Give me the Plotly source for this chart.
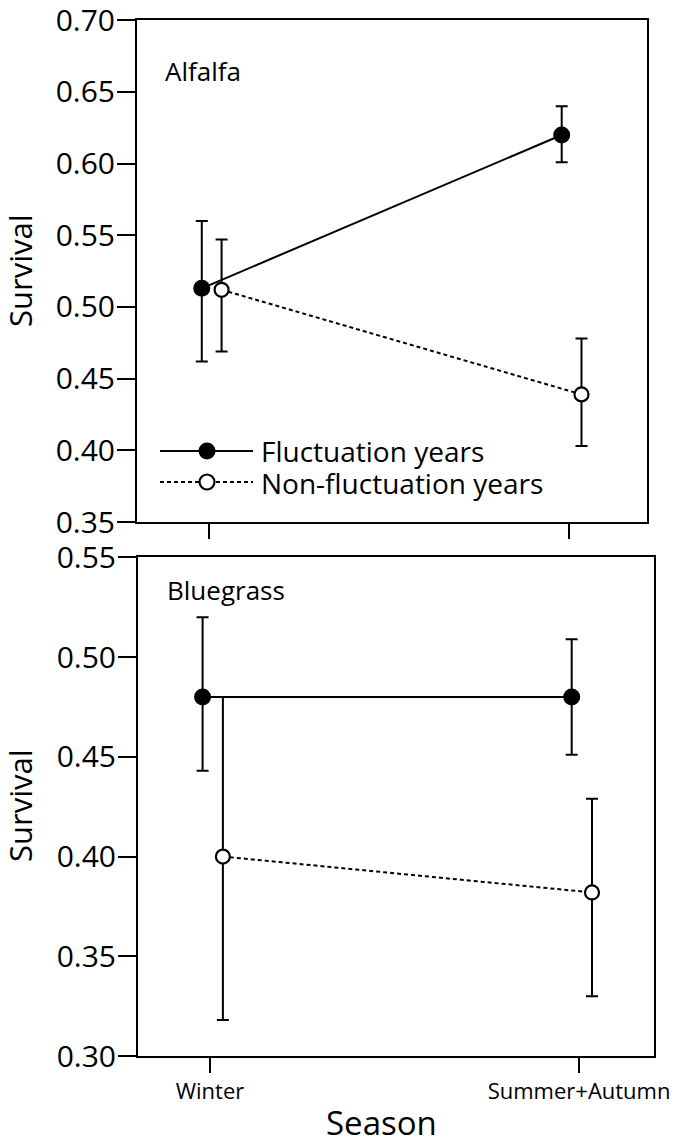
import plotly.graph_objects as go

# ---- data ----
seasons = ["Winter", "Summer+Autumn"]

alfalfa_fluct = [0.513, 0.620]
alfalfa_fluct_hi = [0.560, 0.640]
alfalfa_fluct_lo = [0.462, 0.601]

alfalfa_non = [0.512, 0.439]
alfalfa_non_hi = [0.547, 0.478]
alfalfa_non_lo = [0.469, 0.403]

blue_fluct = [0.480, 0.480]
blue_fluct_hi = [0.520, 0.509]
blue_fluct_lo = [0.443, 0.451]

blue_non = [0.400, 0.382]
blue_non_hi = [0.480, 0.429]
blue_non_lo = [0.318, 0.330]

alfalfa_yticks = [0.35, 0.40, 0.45, 0.50, 0.55, 0.60, 0.65, 0.70]
blue_yticks = [0.30, 0.35, 0.40, 0.45, 0.50, 0.55]

legend_names = ["Fluctuation years", "Non-fluctuation years"]

# ---- styling ----
W, H = 679, 1147
FONT = "Open Sans"
OFF_FLUCT = -0.02
OFF_NON = 0.035
DASH = "4px,3px"

fig = go.Figure()


def add_series(vals, hi, lo, offset, filled, name, xa, ya):
    xs = [i + offset for i in range(len(seasons))]
    plus = [h - v for h, v in zip(hi, vals)]
    minus = [v - l for v, l in zip(vals, lo)]
    fig.add_trace(go.Scatter(
        x=xs, y=vals, name=name, showlegend=False,
        xaxis=xa, yaxis=ya,
        mode="lines+markers",
        line=dict(color="black", width=2, dash="solid" if filled else DASH),
        marker=dict(
            symbol="circle",
            size=17 if filled else 14,
            color="black" if filled else "white",
            line=dict(color="black", width=0 if filled else 2.2),
        ),
        error_y=dict(type="data", symmetric=False, array=plus,
                     arrayminus=minus, color="black", thickness=2, width=6),
    ))


add_series(alfalfa_fluct, alfalfa_fluct_hi, alfalfa_fluct_lo, OFF_FLUCT, True,
           legend_names[0], "x", "y")
add_series(alfalfa_non, alfalfa_non_hi, alfalfa_non_lo, OFF_NON, False,
           legend_names[1], "x", "y")
add_series(blue_fluct, blue_fluct_hi, blue_fluct_lo, OFF_FLUCT, True,
           legend_names[0], "x2", "y2")
add_series(blue_non, blue_non_hi, blue_non_lo, OFF_NON, False,
           legend_names[1], "x2", "y2")

axis_common = dict(showline=True, mirror=True, linecolor="black", linewidth=2,
                   showgrid=False, zeroline=False, ticks="outside",
                   tickcolor="black", tickwidth=2, automargin=False)

fig.update_layout(
    width=W, height=H,
    margin=dict(l=0, r=0, t=0, b=0),
    paper_bgcolor="white", plot_bgcolor="white",
    font=dict(family=FONT, color="black"),
    showlegend=False,
    xaxis=dict(domain=[137 / W, 647 / W], range=[-0.2, 1.217],
               tickvals=list(range(len(seasons))), ticktext=seasons,
               showticklabels=False, ticklen=15, anchor="y", **axis_common),
    yaxis=dict(domain=[1 - 522 / H, 1 - 20 / H], range=[0.35, 0.7002],
               tickvals=alfalfa_yticks, tickformat=".2f", ticklen=18,
               ticklabelstandoff=-4, ticklabeloverflow="allow",
               tickfont=dict(size=30), anchor="x", **axis_common),
    xaxis2=dict(domain=[138 / W, 654 / W], range=[-0.195, 1.203],
                tickvals=list(range(len(seasons))), ticktext=seasons,
                tickfont=dict(size=22), ticklen=15, anchor="y2", **axis_common),
    yaxis2=dict(domain=[1 - 1056 / H, 1 - 557 / H], range=[0.30, 0.5502],
                tickvals=blue_yticks, tickformat=".2f", ticklen=18,
                ticklabelstandoff=-4, ticklabeloverflow="allow",
                tickfont=dict(size=30), anchor="x2", **axis_common),
)

# ---- legend (drawn manually, long key lines like the original) ----
shapes = []
leg_rows = [(451, "solid", True), (482, DASH, False)]
for (py, dash, filled) in leg_rows:
    yy = 1 - py / H
    shapes.append(dict(type="line", xref="paper", yref="paper",
                       x0=160 / W, x1=253 / W, y0=yy, y1=yy,
                       line=dict(color="black", width=2, dash=dash)))
    r = 8.5 if filled else 7.5
    shapes.append(dict(type="circle", xref="paper", yref="paper",
                       xsizemode="pixel", ysizemode="pixel",
                       xanchor=207 / W, yanchor=yy,
                       x0=-r, x1=r, y0=-r, y1=r,
                       fillcolor="black" if filled else "white",
                       line=dict(color="black", width=0 if filled else 2.2),
                       layer="above"))
fig.update_layout(shapes=shapes)

ann = [
    dict(text="Alfalfa", x=163 / W, y=1 - 71 / H, xanchor="left", yanchor="middle",
         font=dict(size=26)),
    dict(text="Bluegrass", x=165 / W, y=1 - 590 / H, xanchor="left", yanchor="middle",
         font=dict(size=26)),
    dict(text="Survival", x=20 / W, y=1 - 271 / H, textangle=-90, xanchor="center",
         yanchor="middle", font=dict(size=31)),
    dict(text="Survival", x=20 / W, y=1 - 806 / H, textangle=-90, xanchor="center",
         yanchor="middle", font=dict(size=31)),
    dict(text="Season", x=381 / W, y=0, xanchor="center", yanchor="bottom",
         font=dict(size=33)),
    dict(text=legend_names[0], x=259 / W, y=1 - 451 / H, xanchor="left",
         yanchor="middle", font=dict(size=28)),
    dict(text=legend_names[1], x=259 / W, y=1 - 483 / H, xanchor="left",
         yanchor="middle", font=dict(size=28)),
]
for a in ann:
    a.update(xref="paper", yref="paper", showarrow=False)
fig.update_layout(annotations=ann)

fig.write_html("out.html",
               config={"displayModeBar": False},
               post_script="document.body.style.margin='0';"
                           "document.body.style.padding='0';")
